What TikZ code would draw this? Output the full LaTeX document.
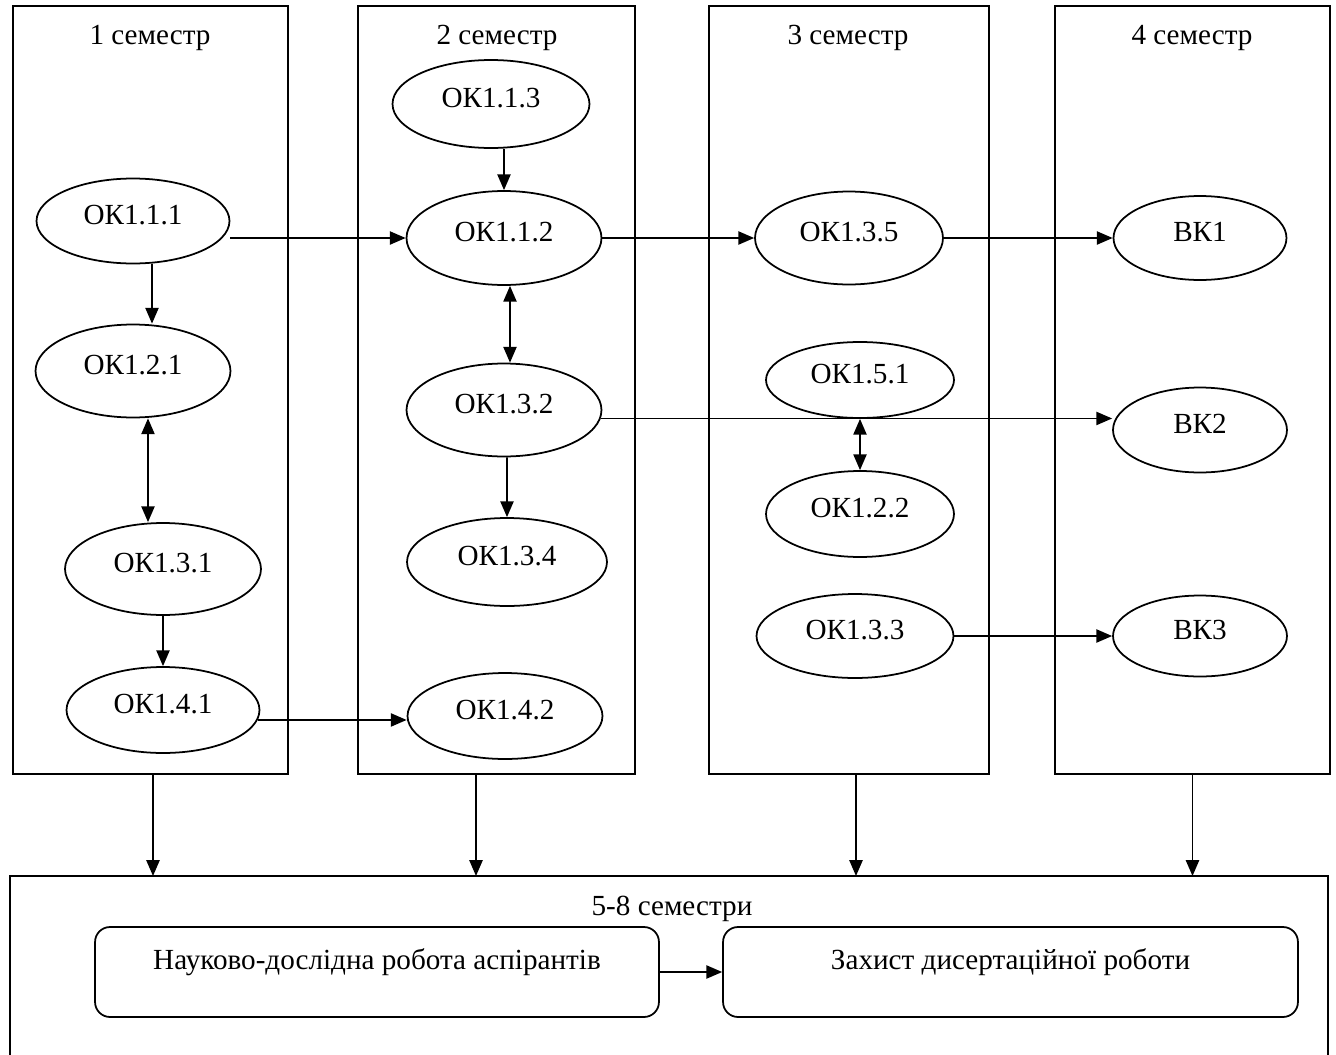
\documentclass[tikz,border=0pt]{standalone}
\usepackage{fontspec}
\setmainfont{Liberation Serif}
\usepackage{tikz}
\usetikzlibrary{arrows.meta,shapes.geometric}
\tikzset{>={Triangle[length=9pt,width=7.5pt]}}
\tikzstyle{sem}=[draw,line width=1pt,minimum width=5.5cm,minimum height=15.36cm,inner sep=0]
\tikzstyle{kurs}=[ellipse,draw,line width=1pt,minimum width=3.9cm,minimum height=1.8cm,inner sep=1pt,text height=11pt,text depth=7pt]
\tikzstyle{robota}=[draw,line width=1pt,rounded corners=0.3cm,minimum height=1.8cm,text height=11pt,text depth=13.6pt]
\tikzstyle{link}=[->,line width=1pt]

\begin{document}
\begin{tikzpicture}[x=0.02cm,y=-0.02cm,font=\fontsize{16.6}{20}\selectfont]
				\useasboundingbox (0,0) rectangle (1336,1055);
				% semestry
				\node[sem] at (150.5,390) (s1) {};
				\node[sem,minimum width=5.54cm] at (496.5,390) (s2) {};
				\node[sem,minimum width=5.6cm] at (849,390) (s3) {};
				\node[sem] at (1192.5,390) (s4) {};
				\node at (150,38) (h1) {1 семестр};
				\node at (497,38) (h2) {2 семестр};
				\node at (848,38) (h3) {3 семестр};
				\node at (1192,38) (h4) {4 семестр};
				
				% 1 semestr
				\node[kurs,minimum width=3.86cm,minimum height=1.7cm] at (133,221) (o111) {ОК1.1.1};
				\node[kurs,minimum height=1.86cm] at (133,371) (o121) {ОК1.2.1};
				\node[kurs,minimum width=3.92cm,minimum height=1.84cm] at (163,569) (o131) {ОК1.3.1};
				\node[kurs,minimum width=3.86cm,minimum height=1.72cm] at (163,710) (o141) {ОК1.4.1};
				
				% 2 semestr
				\node[kurs,minimum width=3.94cm,minimum height=1.76cm] at (491,104) (o113) {ОК1.1.3};
				\node[kurs,minimum height=1.88cm] at (504,238) (o112) {ОК1.1.2};
				\node[kurs,minimum height=1.86cm] at (504,410) (o132) {ОК1.3.2};
				\node[kurs,minimum width=4cm,minimum height=1.76cm] at (507,562) (o134) {ОК1.3.4};
				\node[kurs,minimum height=1.72cm] at (505,716) (o142) {ОК1.4.2};
				
				% 3 semestr
				\node[kurs,minimum width=3.76cm,minimum height=1.86cm] at (849,238) (o135) {ОК1.3.5};
				\node[kurs,minimum width=3.76cm,minimum height=1.52cm] at (860,380) (o151) {ОК1.5.1};
				\node[kurs,minimum width=3.76cm,minimum height=1.72cm] at (860,514) (o122) {ОК1.2.2};
				\node[kurs,minimum width=3.94cm,minimum height=1.68cm] at (855,636) (o133) {ОК1.3.3};
				
				% 4 semestr
				\node[kurs,minimum width=3.46cm,minimum height=1.68cm] at (1200,238) (v1) {ВК1};
				\node[kurs,minimum width=3.48cm,minimum height=1.7cm] at (1200,430) (v2) {ВК2};
				\node[kurs,minimum width=3.48cm,minimum height=1.62cm] at (1200,636) (v3) {ВК3};
				
				\draw[link] ([xshift=0.38cm]o111.south) -- ([xshift=0.38cm]o121.north);
				\draw[link,<->] ([xshift=0.3cm]o121.south) -- ([xshift=-0.3cm]o131.north);
				\draw[link] (o131) -- (o141);
				\draw[link] (o141.-6) -- (o141.-6 -| o142.west);
				\draw[link] (o111.east |- o112.west) -- (o112.west);
				\draw[link] ([xshift=0.26cm]o113.south) -- (o112);
				\draw[link,<->] ([xshift=0.12cm]o112.south) -- ([xshift=0.12cm]o132.north);
				\draw[link] ([xshift=0.06cm]o132.south) -- (o134);
				\draw[link] (o112) -- (o135);
				\draw[link] (o135) -- (v1);
				\draw[link] (o132.-5) -- (o132.-5 -| v2.west);
				\draw[link,<->] (o151) -- (o122);
				\draw[link] (o133) -- (v3);
				
				% 5-8 semestry
				\coordinate (bb) at (10,876);
				\draw[line width=1pt] (10,1060) -- (bb) -- (1328,876) -- (1328,1060);
				\node at (672,909) (h5) {5-8 семестри};
				\node[robota,minimum width=11.28cm] at (377,972) (r1) {Науково-дослідна робота аспірантів};
				\node[robota,minimum width=11.5cm] at (1010.5,972) (r2) {Захист дисертаційної роботи};
				\draw[link] (r1) -- (r2);
				
				\coordinate (c1) at ([xshift=0.05cm]s1.south);
				\coordinate (c2) at ([xshift=-0.41cm]s2.south);
				\coordinate (c3) at ([xshift=0.14cm]s3.south);
				\coordinate (c4) at (s4.south);
				\draw[link] (c1) -- (c1 |- bb);
				\draw[link] (c2) -- (c2 |- bb);
				\draw[link] (c3) -- (c3 |- bb);
				\draw[link] (c4) -- (c4 |- bb);
			\end{tikzpicture}
\end{document}
